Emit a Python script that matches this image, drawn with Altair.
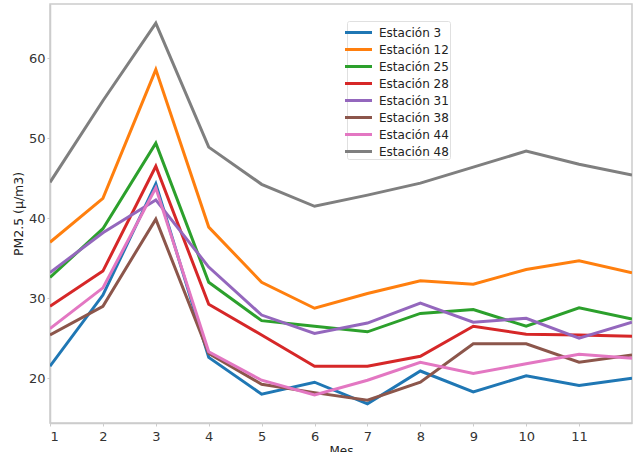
import altair as alt
import pandas as pd

meses = list(range(1, 13))

estaciones = [
    "Estación 3", "Estación 12", "Estación 25", "Estación 28",
    "Estación 31", "Estación 38", "Estación 44", "Estación 48",
]

est_3 = [21.5, 30.4, 44.3, 22.6, 18.0, 19.5, 16.8, 20.9, 18.3, 20.3, 19.1, 20.0]
est_12 = [37.0, 42.5, 58.6, 38.9, 32.0, 28.75, 30.6, 32.2, 31.75, 33.6, 34.7, 33.2]
est_25 = [32.6, 38.7, 49.4, 32.0, 27.2, 26.5, 25.8, 28.1, 28.6, 26.5, 28.8, 27.4]
est_28 = [29.0, 33.4, 46.5, 29.25, 25.4, 21.5, 21.5, 22.75, 26.5, 25.5, 25.4, 25.25]
est_31 = [33.2, 38.2, 42.3, 33.9, 27.9, 25.6, 26.9, 29.4, 27.0, 27.5, 25.0, 27.0]
est_38 = [25.4, 29.0, 39.9, 23.1, 19.25, 18.2, 17.25, 19.5, 24.3, 24.3, 22.0, 22.9]
est_44 = [26.2, 31.3, 43.8, 23.3, 19.75, 17.9, 19.75, 22.0, 20.6, 21.8, 23.0, 22.5]
est_48 = [44.5, 54.7, 64.4, 48.9, 44.25, 41.5, 42.9, 44.4, 46.4, 48.4, 46.75, 45.4]

series = [est_3, est_12, est_25, est_28, est_31, est_38, est_44, est_48]

colores = [
    "#1f77b4", "#ff7f0e", "#2ca02c", "#d62728",
    "#9467bd", "#8c564b", "#e377c2", "#7f7f7f",
]

rows = []
for nombre, valores in zip(estaciones, series):
    for mes, v in zip(meses, valores):
        rows.append({"Mes": mes, "PM25": v, "Estacion": nombre})
df = pd.DataFrame(rows)

font = "DejaVu Sans"

chart = (
    alt.Chart(df)
    .mark_line(strokeWidth=3, clip=True)
    .encode(
        x=alt.X(
            "Mes:Q",
            scale=alt.Scale(domain=[1, 12], nice=False, zero=False),
            axis=alt.Axis(
                title="Mes",
                values=meses[:-1],
                format="d",
                grid=False,
                titleFontWeight="normal",
                titleFontSize=12,
                titleColor="#222",
                titlePadding=2,
                labelPadding=4,
            ),
        ),
        y=alt.Y(
            "PM25:Q",
            scale=alt.Scale(domain=[14.4, 66.8], nice=False, zero=False),
            axis=alt.Axis(
                title="PM2.5 (µ/m3)",
                values=[20, 30, 40, 50, 60],
                grid=False,
                titleFontWeight="normal",
                titleFontSize=12.5,
                titleColor="#222",
                titlePadding=3,
                labelPadding=2,
            ),
        ),
        color=alt.Color(
            "Estacion:N",
            sort=estaciones,
            scale=alt.Scale(domain=estaciones, range=colores),
            legend=alt.Legend(
                title=None,
                orient="none",
                legendX=297,
                legendY=17,
                symbolType="M-1.56,0H1.56",
                symbolStrokeWidth=3,
                symbolSize=300,
                symbolFillColor="transparent",
                labelFontSize=12,
                labelColor="#222",
                labelOffset=10,
                rowPadding=0,
                padding=1,
                fillColor="white",
                strokeColor="#e0e0e0",
                cornerRadius=2,
            ),
        ),
    )
    .properties(
        width=582,
        height=419,
        autosize=alt.AutoSizeParams(type="none"),
        padding={"left": 50, "top": 4, "right": 2, "bottom": 29},
    )
    .configure_view(stroke="#cccccc", strokeWidth=1.5)
    .configure_axis(
        domainColor="#cccccc",
        domainWidth=1.5,
        tickColor="#cccccc",
        tickSize=3,
        labelFont=font,
        titleFont=font,
        labelFontSize=13,
        labelColor="#333",
    )
    .configure_legend(labelFont=font)
)

chart.save("out.html", embed_options={"renderer": "svg", "actions": False})
